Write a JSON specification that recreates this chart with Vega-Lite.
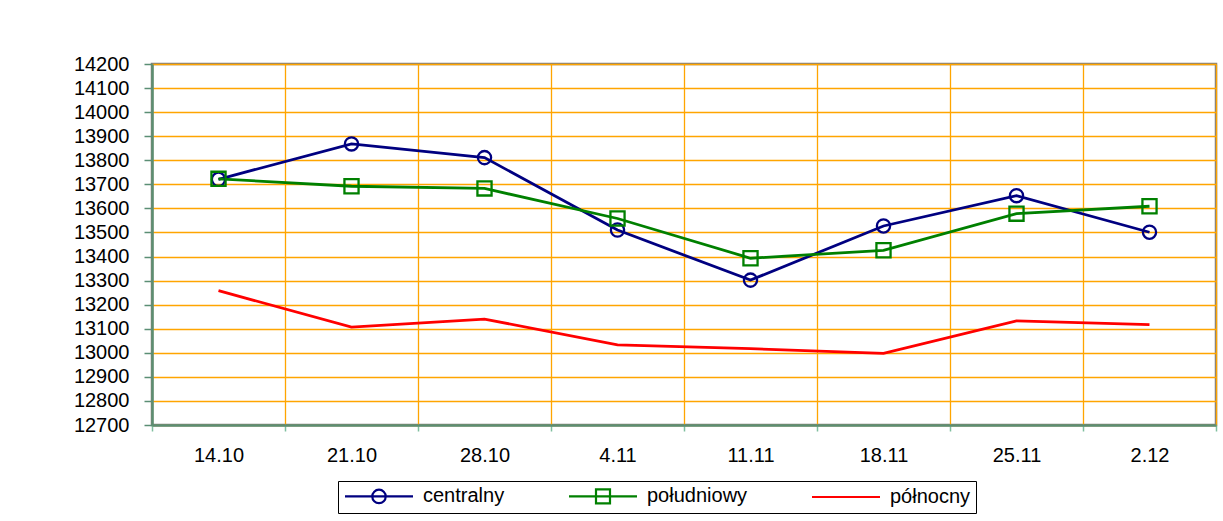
{
  "$schema": "https://vega.github.io/schema/vega-lite/v6.json",
  "width": 1064,
  "height": 361,
  "autosize": {"type": "none"},
  "padding": {"left": 152, "top": 64, "right": 7, "bottom": 96},
  "background": "white",
  "config": {
    "view": {"stroke": "#808080", "strokeWidth": 2.5},
    "font": "Liberation Sans"
  },
  "data": {
    "values": [
      {"date": "14.10", "series": "centralny", "value": 13721},
      {"date": "21.10", "series": "centralny", "value": 13868},
      {"date": "28.10", "series": "centralny", "value": 13811},
      {"date": "4.11", "series": "centralny", "value": 13510},
      {"date": "11.11", "series": "centralny", "value": 13302},
      {"date": "18.11", "series": "centralny", "value": 13527},
      {"date": "25.11", "series": "centralny", "value": 13653},
      {"date": "2.12", "series": "centralny", "value": 13501},
      {"date": "14.10", "series": "południowy", "value": 13723},
      {"date": "21.10", "series": "południowy", "value": 13692},
      {"date": "28.10", "series": "południowy", "value": 13683},
      {"date": "4.11", "series": "południowy", "value": 13558},
      {"date": "11.11", "series": "południowy", "value": 13393},
      {"date": "18.11", "series": "południowy", "value": 13426},
      {"date": "25.11", "series": "południowy", "value": 13578},
      {"date": "2.12", "series": "południowy", "value": 13609},
      {"date": "14.10", "series": "północny", "value": 13258},
      {"date": "21.10", "series": "północny", "value": 13107},
      {"date": "28.10", "series": "północny", "value": 13140},
      {"date": "4.11", "series": "północny", "value": 13033},
      {"date": "11.11", "series": "północny", "value": 13017},
      {"date": "18.11", "series": "północny", "value": 12998},
      {"date": "25.11", "series": "północny", "value": 13133},
      {"date": "2.12", "series": "północny", "value": 13117}
    ]
  },
  "encoding": {
    "x": {
      "field": "date",
      "type": "ordinal",
      "sort": null,
      "scale": {"type": "band", "paddingInner": 0, "paddingOuter": 0},
      "axis": {
        "title": null,
        "labelAngle": 0,
        "labelFont": "Liberation Sans",
        "labelFontSize": 20,
        "labelColor": "black",
        "labelPadding": 14,
        "tickSize": 6,
        "tickBand": "extent",
        "tickColor": "#7FBF9F",
        "tickWidth": 1.5,
        "domainColor": "#5B8E74",
        "domainWidth": 2.5,
        "grid": true,
        "gridColor": "#FFA500",
        "gridWidth": 1.3
      }
    },
    "y": {
      "field": "value",
      "type": "quantitative",
      "scale": {"domain": [12700, 14200], "nice": false, "zero": false},
      "axis": {
        "title": null,
        "format": "d",
        "values": [12700, 12800, 12900, 13000, 13100, 13200, 13300, 13400, 13500, 13600, 13700, 13800, 13900, 14000, 14100, 14200],
        "labelFont": "Liberation Sans",
        "labelFontSize": 20,
        "labelColor": "black",
        "labelPadding": 15,
        "tickSize": 8,
        "tickColor": "#5B8E74",
        "tickWidth": 1.5,
        "domainColor": "#5B8E74",
        "domainWidth": 2.5,
        "grid": true,
        "gridColor": "#FFA500",
        "gridWidth": 1.3
      }
    }
  },
  "layer": [
    {
      "mark": {"type": "line", "strokeWidth": 2.8},
      "encoding": {
        "color": {
          "field": "series",
          "type": "nominal",
          "scale": {"domain": ["centralny", "południowy", "północny"], "range": ["#000080", "#008000", "#FF0000"]},
          "legend": {
            "orient": "none",
            "legendX": 186,
            "legendY": 417,
            "direction": "horizontal",
            "columns": 3,
            "columnPadding": 59,
            "title": null,
            "strokeColor": "black",
            "padding": 5,
            "labelFont": "Liberation Sans",
            "labelFontSize": 20,
            "labelColor": "black",
            "labelOffset": 60,
            "symbolSize": 256,
            "symbolStrokeWidth": 2,
            "encode": {
              "symbols": {
                "update": {
                  "shape": {"signal": "datum.value === 'centralny' ? 'M-1,0H7.5M2.41,0A0.84,0.84,0,1,1,4.09,0A0.84,0.84,0,1,1,2.41,0' : datum.value === 'południowy' ? 'M-1,0H7.5M2.375,-0.875H4.125V0.875H2.375Z' : 'M-1,0H7.5'"},
                  "fill": {"value": "transparent"},
                  "strokeWidth": {"value": 2.2}
                }
              }
            }
          }
        }
      }
    },
    {
      "transform": [{"filter": "datum.series === 'centralny'"}],
      "mark": {"type": "point", "shape": "circle", "size": 175, "filled": false, "color": "#000080", "strokeWidth": 2.3, "opacity": 1}
    },
    {
      "transform": [{"filter": "datum.series === 'południowy'"}],
      "mark": {"type": "point", "shape": "square", "size": 200, "filled": false, "color": "#008000", "strokeWidth": 2.3, "opacity": 1}
    }
  ]
}
